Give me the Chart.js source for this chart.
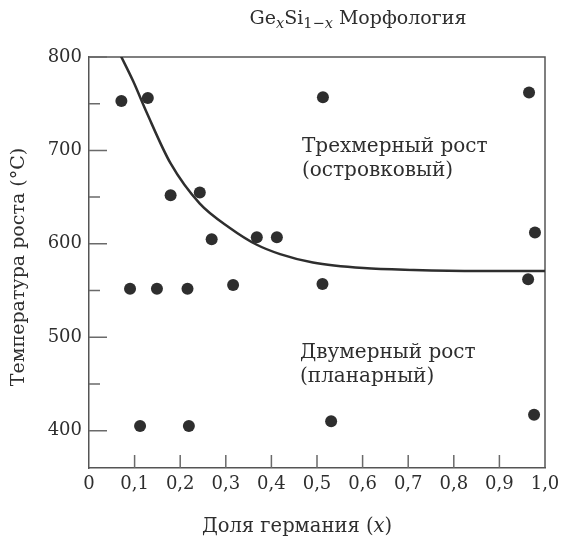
<!DOCTYPE html>
<html>
<head>
<meta charset="utf-8">
<script src="https://cdn.jsdelivr.net/npm/chart.js@4"></script>
<style>
html,body{margin:0;padding:0;background:#fff}
#wrap{width:568px;height:538px;position:relative}
</style>
</head>
<body>
<div id="wrap"><canvas id="c" width="568" height="538"></canvas></div>
<script>
// ---- data ----
const pointX = [0.071, 0.129, 0.513, 0.965, 0.179, 0.243, 0.269, 0.368, 0.412, 0.978,
                0.090, 0.149, 0.216, 0.316, 0.512, 0.963, 0.112, 0.219, 0.531, 0.976];
const pointY = [753, 756, 757, 762, 652, 655, 605, 607, 607, 612,
                552, 552, 552, 556, 557, 562, 405, 405, 410, 417];
const curveX = [0.068, 0.097, 0.127, 0.179, 0.243, 0.309, 0.368, 0.419, 0.491, 0.602, 0.712, 0.857, 1.0];
const curveY = [803, 774, 740, 686, 643, 617, 599, 589, 580, 574, 572, 571, 571];
const xTickValues = [0, 0.1, 0.2, 0.3, 0.4, 0.5, 0.6, 0.7, 0.8, 0.9, 1.0];
const yTickValues = [400, 500, 600, 700, 800];
const yMinorTickValues = [450, 550, 650, 750];
const titleRuns = [
  {t: 'Ge'}, {t: 'x', it: true, sub: true}, {t: 'Si'}, {t: '1\u2212', sub: true},
  {t: 'x', it: true, sub: true}, {t: ' Морфология'}
];
const xTitleRuns = [{t: 'Доля германия ('}, {t: 'x', it: true}, {t: ')'}];
const yTitleText = 'Температура роста (°C)';
const regionLabels = [
  ['Трехмерный рост', '(островковый)'],
  ['Двумерный рост', '(планарный)']
];

// ---- styling ----
const FAMILY = '"DejaVu Serif", "Liberation Serif", serif';
const INK = '#2e2e2e';
const AXIS = '#555555';

function fontStr(size, italic) {
  return (italic ? 'italic ' : '') + size + 'px ' + FAMILY;
}
function drawRuns(ctx, runs, cx, cy, size, subSize) {
  let total = 0;
  const widths = runs.map(r => {
    ctx.font = fontStr(r.sub ? subSize : size, r.it);
    const w = ctx.measureText(r.t).width;
    total += w;
    return w;
  });
  let x = cx - total / 2;
  runs.forEach((r, i) => {
    ctx.font = fontStr(r.sub ? subSize : size, r.it);
    ctx.fillText(r.t, x, cy + (r.sub ? 5 : 0));
    x += widths[i];
  });
}

const decorPlugin = {
  id: 'decor',
  beforeDatasetsDraw(chart) {
    const {ctx, chartArea: a, scales} = chart;
    const xs = scales.x, ys = scales.y;
    ctx.save();
    ctx.strokeStyle = AXIS;
    ctx.lineWidth = 1.5;
    ctx.beginPath();
    ctx.moveTo(a.left, a.top);
    ctx.lineTo(a.right, a.top);
    ctx.lineTo(a.right, a.bottom);
    ctx.stroke();
    ctx.strokeStyle = '#6a6a6a';
    ctx.lineWidth = 1.5;
    ctx.beginPath();
    yTickValues.forEach(v => {
      const p = ys.getPixelForValue(v);
      ctx.moveTo(a.left, p); ctx.lineTo(a.left + 18, p);
    });
    yMinorTickValues.forEach(v => {
      const p = ys.getPixelForValue(v);
      ctx.moveTo(a.left, p); ctx.lineTo(a.left + 11, p);
    });
    xTickValues.forEach(v => {
      if (v <= xs.min || v >= xs.max) return;
      const p = xs.getPixelForValue(v);
      ctx.moveTo(p, a.bottom); ctx.lineTo(p, a.bottom - 13);
    });
    ctx.stroke();
    ctx.restore();
  },
  afterDraw(chart) {
    const {ctx} = chart;
    ctx.save();
    ctx.fillStyle = INK;
    ctx.textBaseline = 'middle';
    ctx.textAlign = 'left';
    drawRuns(ctx, titleRuns, 358, 19, 19, 14.5);
    drawRuns(ctx, xTitleRuns, 297, 527, 19.5, 15);
    ctx.save();
    ctx.translate(19, 267);
    ctx.rotate(-Math.PI / 2);
    ctx.font = fontStr(19, false);
    ctx.textAlign = 'center';
    ctx.fillText(yTitleText, 0, 0);
    ctx.restore();
    ctx.font = fontStr(20, false);
    ctx.textAlign = 'left';
    const anchors = [[302, 147], [300, 353]];
    regionLabels.forEach((lines, i) => {
      lines.forEach((ln, j) => ctx.fillText(ln, anchors[i][0], anchors[i][1] + j * 24));
    });
    ctx.restore();
  }
};

new Chart(document.getElementById('c'), {
  type: 'scatter',
  data: {
    datasets: [
      {
        label: 'points',
        data: pointX.map((x, i) => ({x, y: pointY[i]})),
        pointRadius: 6,
        pointHoverRadius: 6,
        pointBackgroundColor: INK,
        pointBorderWidth: 0,
        showLine: false
      },
      {
        label: 'boundary',
        data: curveX.map((x, i) => ({x, y: curveY[i]})),
        showLine: true,
        pointRadius: 0,
        borderColor: INK,
        borderWidth: 2.5,
        cubicInterpolationMode: 'monotone',
        fill: false
      }
    ]
  },
  options: {
    responsive: false,
    animation: false,
    events: [],
    layout: {padding: {top: 57, right: 23, bottom: 0, left: 0}},
    plugins: {legend: {display: false}, tooltip: {enabled: false}, title: {display: false}},
    scales: {
      x: {
        type: 'linear', min: 0, max: 1,
        afterFit: s => { s.height = 70; },
        afterBuildTicks: s => { s.ticks = xTickValues.map(v => ({value: v})); },
        grid: {display: false, drawTicks: false},
        border: {display: true, color: AXIS, width: 1.5},
        ticks: {
          padding: 6,
          color: INK,
          font: {family: FAMILY, size: 18},
          maxRotation: 0,
          autoSkip: false,
          callback: v => v === 0 ? '0' : v.toFixed(1).replace('.', ',')
        }
      },
      y: {
        type: 'linear', min: 360, max: 800,
        afterFit: s => { s.width = 89; },
        afterBuildTicks: s => { s.ticks = yTickValues.map(v => ({value: v})); },
        grid: {display: false, drawTicks: false},
        border: {display: true, color: AXIS, width: 1.5},
        ticks: {
          padding: 7,
          color: INK,
          font: {family: FAMILY, size: 18},
          autoSkip: false,
          callback: v => String(v)
        }
      }
    }
  },
  plugins: [decorPlugin]
});
</script>
</body>
</html>
